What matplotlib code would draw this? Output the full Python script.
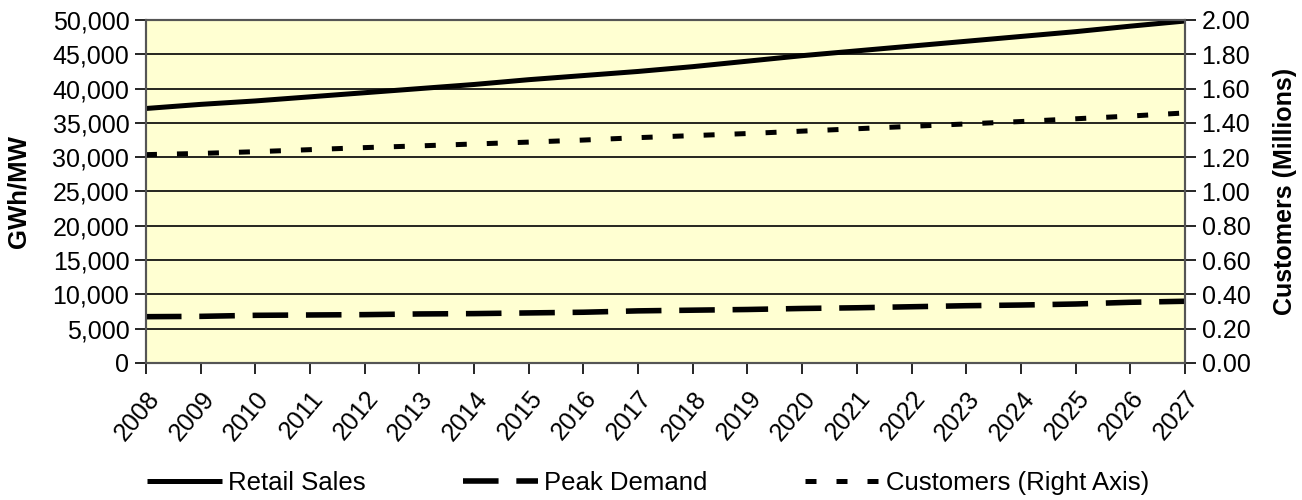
import numpy as np
import matplotlib
matplotlib.use('Agg')
import matplotlib.pyplot as plt
from matplotlib.ticker import FuncFormatter

plt.rcParams['font.family'] = ['Liberation Sans', 'DejaVu Sans']

years = list(range(2008, 2028))
retail_sales = [37100, 37700, 38200, 38800, 39400, 40000, 40600, 41300, 41900, 42500,
                43200, 44000, 44800, 45500, 46200, 46900, 47600, 48300, 49100, 49850]
peak_demand = [6750, 6800, 6950, 7000, 7050, 7150, 7200, 7300, 7400, 7600,
               7700, 7800, 7950, 8050, 8200, 8350, 8450, 8600, 8850, 9000]
customers = [1.215, 1.222, 1.232, 1.244, 1.256, 1.266, 1.277, 1.288, 1.300, 1.314,
             1.326, 1.338, 1.352, 1.366, 1.380, 1.394, 1.408, 1.424, 1.440, 1.458]

fig = plt.figure(figsize=(13.02, 5), dpi=100)
ax = fig.add_axes([0.1121, 0.274, 0.798, 0.686])
ax.set_facecolor('#FFFFD2')

x = np.arange(len(years))
l1, = ax.plot(x, retail_sales, color='black', lw=3.6, solid_capstyle='butt', label='Retail Sales')
l2, = ax.plot(x, peak_demand, color='black', lw=4.0, dashes=(6.4, 3.2), label='Peak Demand')

ax2 = ax.twinx()
l3, = ax2.plot(x, customers, color='black', lw=3.6, dashes=(2.2, 4.0), label='Customers (Right Axis)')

ax.set_xlim(0, len(years) - 1)
ax.set_ylim(0, 50000)
ax.set_yticks(np.arange(0, 50001, 5000))
ax.yaxis.set_major_formatter(FuncFormatter(lambda v, p: f'{int(v):,}'))
ax2.set_ylim(0, 2)
ax2.set_yticks(np.arange(0, 2.01, 0.2))
ax2.yaxis.set_major_formatter(FuncFormatter(lambda v, p: f'{v:.2f}'))

ax.grid(axis='y', color='black', lw=1.2)
ax.set_axisbelow(True)
ax.set_xticks(x)
ax.set_xticklabels([str(y) for y in years], rotation=50, ha='right', rotation_mode='anchor')

for a in (ax, ax2):
    a.tick_params(labelsize=18, direction='out', length=8, width=1.2, colors='black')
    for s in a.spines.values():
        s.set_color('#555555')
        s.set_linewidth(1.5)
ax.tick_params(axis='x', pad=9)
ax.tick_params(axis='y', pad=4)
ax2.tick_params(axis='y', pad=4)

ax.set_ylabel('GWh/MW', fontsize=18.5, fontweight='bold', labelpad=16)
ax2.set_ylabel('Customers (Millions)', fontsize=18, fontweight='bold', labelpad=16)

fig.legend(handles=[l1, l2, l3], loc='center', bbox_to_anchor=(0.498, 0.034), ncol=3,
           frameon=False, fontsize=18.5, handlelength=2.9, columnspacing=3.8, handletextpad=0.25)

fig.savefig('out.png', dpi=100)
